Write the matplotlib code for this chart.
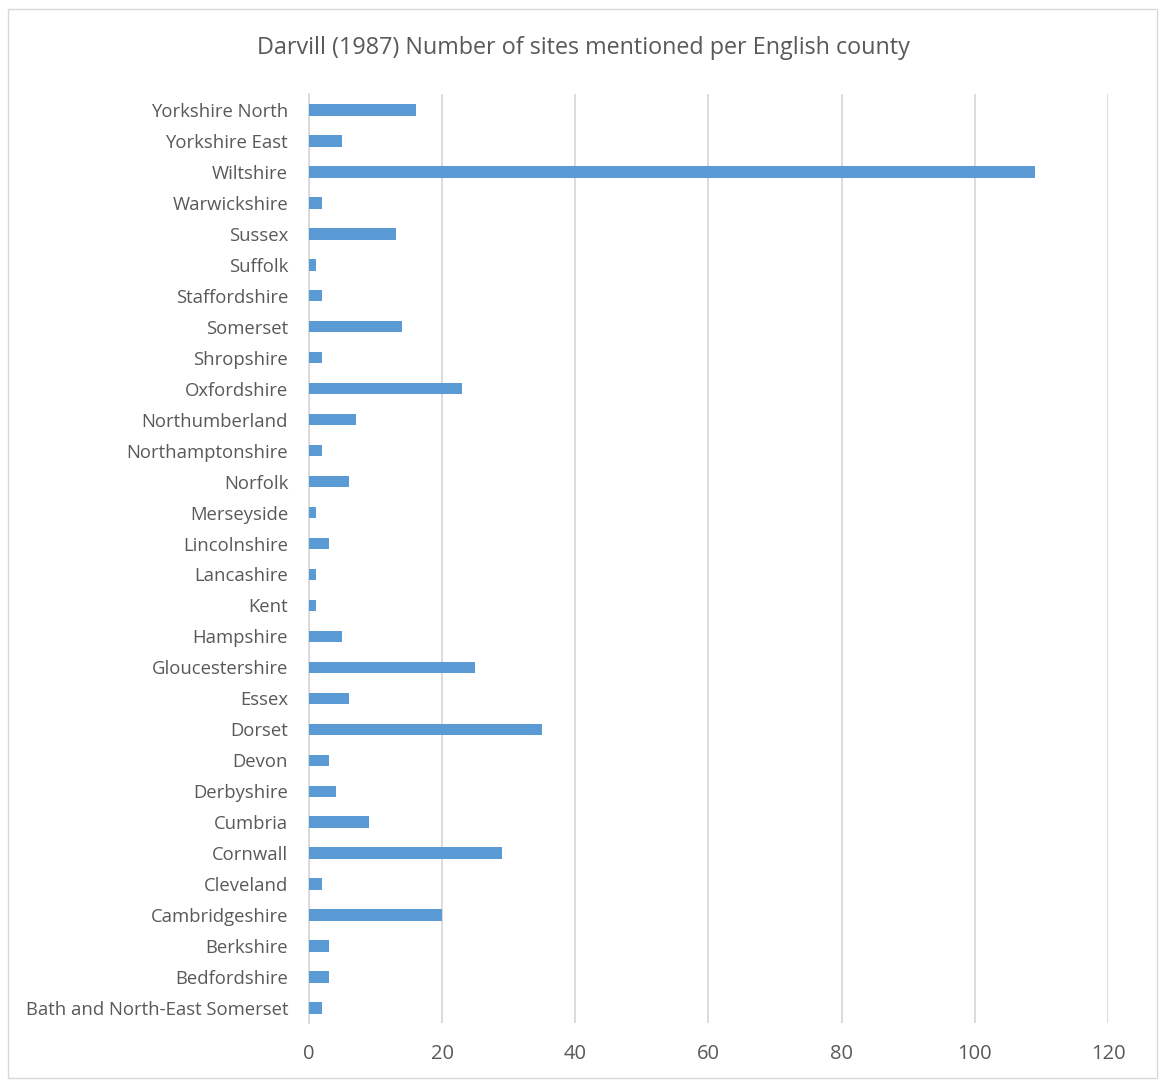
import matplotlib.pyplot as plt
from matplotlib.patches import Rectangle

# County names, bottom to top as drawn
counties = ['Bath and North-East Somerset', 'Bedfordshire', 'Berkshire', 'Cambridgeshire',
            'Cleveland', 'Cornwall', 'Cumbria', 'Derbyshire', 'Devon', 'Dorset', 'Essex',
            'Gloucestershire', 'Hampshire', 'Kent', 'Lancashire', 'Lincolnshire', 'Merseyside',
            'Norfolk', 'Northamptonshire', 'Northumberland', 'Oxfordshire', 'Shropshire',
            'Somerset', 'Staffordshire', 'Suffolk', 'Sussex', 'Warwickshire', 'Wiltshire',
            'Yorkshire East', 'Yorkshire North']
sites = [2, 3, 3, 20, 2, 29, 9, 4, 3, 35, 6, 25, 5, 1, 1, 3, 1, 6, 2, 7, 23, 2, 14, 2, 1,
         13, 2, 109, 5, 16]
x_ticks = [0, 20, 40, 60, 80, 100, 120]

plt.rcParams['font.family'] = ['Open Sans', 'DejaVu Sans']
text_col = '#595959'
grid_col = '#D9D9D9'

fig = plt.figure(figsize=(11.59, 10.81), dpi=100)
fig.patches.append(Rectangle((0.007, 0.003), 0.991, 0.989, transform=fig.transFigure,
                             fill=False, edgecolor=grid_col, linewidth=1))
ax = fig.add_axes([0.2666, 0.0532, 0.6894, 0.8594])

ax.barh(range(len(counties)), sites, height=0.37, color='#5B9BD5', zorder=3)
ax.set_ylim(-0.5, len(counties) - 0.5)
ax.set_xlim(0, 120)
ax.set_xticks(x_ticks)
ax.set_yticks(range(len(counties)))
ax.set_yticklabels(counties)
ax.xaxis.grid(True, color=grid_col, linewidth=1.3, zorder=0)
for s in ['top', 'right', 'bottom']:
    ax.spines[s].set_visible(False)
ax.spines['left'].set_color(grid_col)
ax.spines['left'].set_linewidth(1.3)
ax.tick_params(axis='both', length=0, labelcolor=text_col)
ax.tick_params(axis='y', pad=15, labelsize=13.3)
ax.tick_params(axis='x', pad=15, labelsize=14.5)

fig.text(0.503, 0.956, 'Darvill (1987) Number of sites mentioned per English county',
         ha='center', va='center', fontsize=16.8, color=text_col)

fig.savefig('out.png', dpi=100)
